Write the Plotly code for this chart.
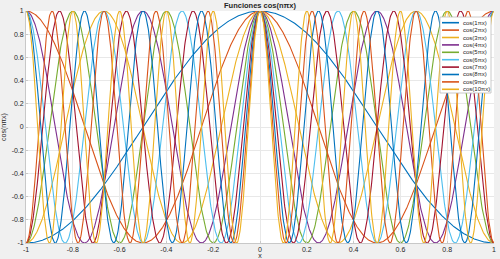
import numpy as np
import plotly.graph_objects as go

# ---- data ----
harmonics = [1, 2, 3, 4, 5, 6, 7, 8, 9, 10]
labels = ["cos(%dπx)" % n for n in harmonics]
x_range = [-1, 1]
n_samples = 1001
colors = ["#0072BD", "#D95319", "#EDB120", "#7E2F8E", "#77AC30",
          "#4DBEEE", "#A2142F", "#0072BD", "#D95319", "#EDB120"]
tick_vals = [-1, -0.8, -0.6, -0.4, -0.2, 0, 0.2, 0.4, 0.6, 0.8, 1]
tick_text = ["-1", "-0.8", "-0.6", "-0.4", "-0.2", "0", "0.2", "0.4", "0.6", "0.8", "1"]

x = np.linspace(x_range[0], x_range[1], n_samples)

fig = go.Figure()
for n, lab, c in zip(harmonics, labels, colors):
    fig.add_trace(go.Scatter(x=x, y=np.cos(n * np.pi * x), mode="lines", name=lab,
                             line=dict(color=c, width=1.1), showlegend=False))

W, H = 500, 259
L, R, T, B = 26, 494, 11, 243
pw, ph = R - L, B - T

def px(xp):
    return (xp - L) / pw

def py(yp):
    return (B - yp) / ph

shapes = []
annotations = []
# manual legend
shapes.append(dict(type="rect", xref="paper", yref="paper",
                   x0=px(440), x1=px(491), y0=py(93), y1=py(17),
                   fillcolor="white", line=dict(color="#bdbdbd", width=0.8), layer="above"))
for i, (lab, c) in enumerate(zip(labels, colors)):
    yc = 22.7 + i * 7.4
    shapes.append(dict(type="line", xref="paper", yref="paper",
                       x0=px(442), x1=px(459), y0=py(yc), y1=py(yc),
                       line=dict(color=c, width=1.6), layer="above"))
    annotations.append(dict(xref="paper", yref="paper", x=px(461), y=py(yc),
                            text=lab, showarrow=False, xanchor="left", yanchor="middle",
                            font=dict(size=6, color="#262626", family="Liberation Sans")))

fig.update_layout(
    width=W, height=H,
    margin=dict(l=L, r=W - R, t=T, b=H - B),
    paper_bgcolor="#f0f0f0",
    plot_bgcolor="white",
    font=dict(family="Liberation Sans", size=7, color="#262626"),
    title=dict(text="<b>Funciones cos(nπx)</b>", x=(L + pw / 2) / W, xanchor="center",
               y=1 - 5.5 / H, yanchor="middle", font=dict(size=7.5, color="#262626")),
    shapes=shapes,
    annotations=annotations,
    xaxis=dict(range=x_range, tickvals=tick_vals, ticktext=tick_text, automargin=False,
               showgrid=True, gridcolor="#e8e8e8", gridwidth=0.8,
               zeroline=False, showline=True, linecolor="#c8c8c8", linewidth=0.8,
               ticks="inside", ticklen=2, tickcolor="#c8c8c8",
               tickfont=dict(size=7, color="#262626"),
               title=dict(text="x", font=dict(size=7))),
    yaxis=dict(range=[-1, 1], tickvals=tick_vals, ticktext=tick_text, automargin=False,
               showgrid=True, gridcolor="#e8e8e8", gridwidth=0.8,
               zeroline=False, showline=True, linecolor="#c8c8c8", linewidth=0.8,
               ticks="inside", ticklen=2, tickcolor="#c8c8c8",
               tickfont=dict(size=7, color="#262626"),
               title=dict(text="cos(nπx)", font=dict(size=7))),
)

fig.write_html("out.html")
